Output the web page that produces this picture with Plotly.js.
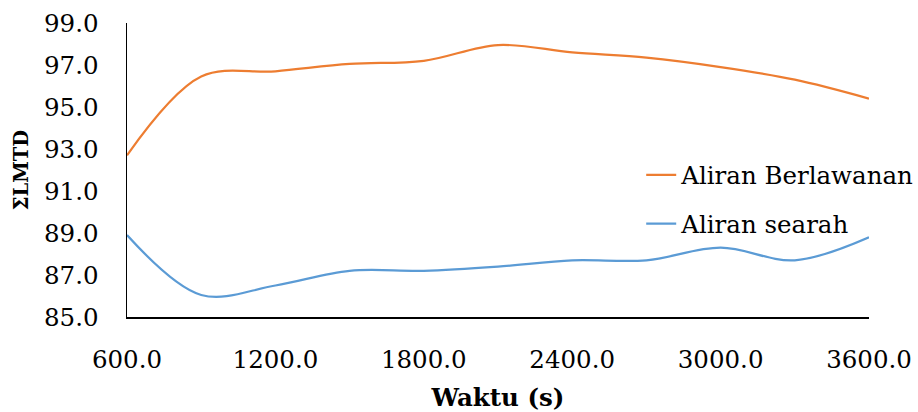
<!DOCTYPE html>
<html>
<head>
<meta charset="utf-8">
<script src="https://cdn.plot.ly/plotly-3.0.1.min.js"></script>
<style>html,body{margin:0;padding:0;background:#fff;}#chart{width:918px;height:412px;}</style>
</head>
<body>
<div id="chart"></div>
<script>
const waktu = [600, 900, 1200, 1500, 1800, 2100, 2400, 2700, 3000, 3300, 3600];
const aliranBerlawanan = [92.7, 96.45, 96.7, 97.05, 97.2, 97.95, 97.6, 97.35, 96.9, 96.3, 95.4];
const aliranSearah = [88.9, 86.05, 86.5, 87.2, 87.2, 87.4, 87.7, 87.7, 88.3, 87.7, 88.8];
const seriesNames = ["Aliran Berlawanan", "Aliran searah"];
const xTicks = [600, 1200, 1800, 2400, 3000, 3600];
const yTicks = [85, 87, 89, 91, 93, 95, 97, 99];

const FONT = "DejaVu Serif, Liberation Serif, serif";

const traces = [
  {x: waktu, y: aliranBerlawanan, name: seriesNames[0], type: "scatter", mode: "lines",
   line: {color: "#ED7D31", width: 2.2, shape: "spline", smoothing: 1}, legendgroup: "a"},
  {x: waktu, y: aliranSearah, name: seriesNames[1], type: "scatter", mode: "lines",
   line: {color: "#5B9BD5", width: 2.2, shape: "spline", smoothing: 1}, legendgroup: "b"}
];

const layout = {
  width: 918, height: 412,
  margin: {l: 127, r: 49, t: 23, b: 95, autoexpand: false},
  paper_bgcolor: "#fff", plot_bgcolor: "#fff",
  font: {family: FONT, size: 24.5, color: "#000"},
  xaxis: {
    range: [600, 3600], tickvals: xTicks, tickformat: ".1f", automargin: false,
    showgrid: false, zeroline: false, showline: true, linecolor: "#000", linewidth: 1.5,
    ticks: "", ticklabelstandoff: 20,
    tickfont: {family: FONT, size: 24.5, color: "#000"},
    title: {text: "<b>Waktu (s)</b>", font: {family: FONT, size: 24.5, color: "#000"}, standoff: 16}
  },
  yaxis: {
    range: [85, 99], tickvals: yTicks, tickformat: ".1f", automargin: false,
    showgrid: false, zeroline: false, showline: true, linecolor: "#000", linewidth: 1.5,
    ticks: "", ticklabelstandoff: 22,
    tickfont: {family: FONT, size: 24.5, color: "#000"},
    title: {text: "<b>ΣLMTD</b>", font: {family: FONT, size: 19.5, color: "#000"}, standoff: 10}
  },
  showlegend: true,
  legend: {x: 0.693, y: 0.56, xanchor: "left", yanchor: "top", bgcolor: "rgba(0,0,0,0)",
           font: {family: FONT, size: 24.5, color: "#000"}, traceorder: "grouped", tracegroupgap: 14}
};

Plotly.newPlot("chart", traces, layout, {displayModeBar: false, staticPlot: true});
</script>
</body>
</html>
